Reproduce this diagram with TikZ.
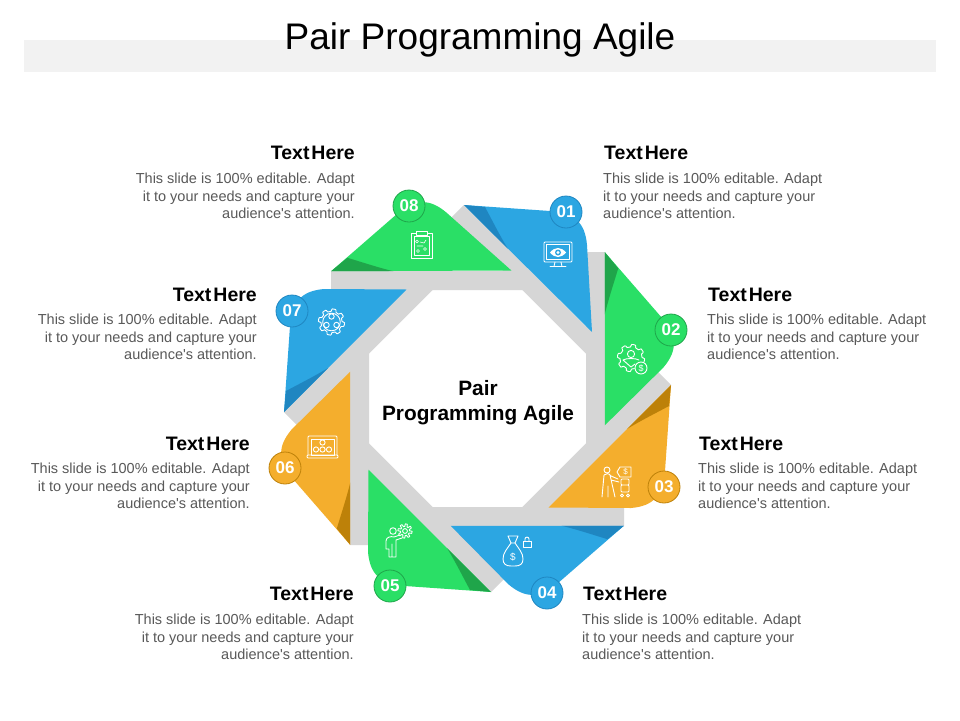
\documentclass[tikz,border=0pt]{standalone}
\usepackage{fontspec}
\setmainfont{Liberation Sans}[Ligatures=TeXOff]
\definecolor{pblue}{HTML}{2CA6E2}\definecolor{dblue}{HTML}{1F86C1}
\definecolor{pgreen}{HTML}{2ADF66}\definecolor{dgreen}{HTML}{1FA54A}
\definecolor{porange}{HTML}{F4AE2D}\definecolor{dorange}{HTML}{BD8109}
\definecolor{bandgray}{HTML}{D6D6D6}\definecolor{stripgray}{HTML}{F2F2F2}
\definecolor{bodygray}{HTML}{595959}
\tikzset{
 x=1pt,y=-1pt,
 ic/.style={draw=white,line width=0.9pt,line join=round,line cap=round,fill=none},
 badge/.style={circle,minimum size=32pt,inner sep=0pt,line width=0.8pt,text=white,font=\fontsize{17}{17}\selectfont\bfseries},
 headtext/.style={inner sep=0pt,text=black,font=\fontsize{19.5}{21}\selectfont\bfseries},
 bodytext/.style={inner sep=0pt,text=bodygray,font=\fontsize{14.5}{17.5}\selectfont},
 dollar/.style={inner sep=0pt,text=white,font=\fontsize{#1}{#1}\selectfont}
}
\newcommand\headlabel{\spaceskip=.1em Text Here}
\newcommand\gearicon[4]{% cx cy r teeth
 \draw[ic] plot[domain=0:360,samples=121,smooth] ({#1+(#3+1.3*max(-1,min(1,3*sin(#4*\x))))*cos(\x)},{#2+(#3+1.3*max(-1,min(1,3*sin(#4*\x))))*sin(\x)}) -- cycle;}
\begin{document}
\begin{tikzpicture}
\useasboundingbox (0,0) rectangle (960,720);
\fill[white] (0,0) rectangle (960,720);
\fill[stripgray] (24,40) rectangle (936,72);
\node[inner sep=0pt,font=\fontsize{37}{40}\selectfont] (title) at (480,39.5) {Pair Programming Agile};
\foreach \k in {0,...,7}{
 \fill[bandgray,rotate around={-45*\k:(477.5,398.5)}] (331,271) -- (331,290) -- (523,290) -- (504,271) -- cycle;
}
\foreach \cc/\dd/\tipx/\tipy/\bx/\by [count=\k from 0] in {pblue/dblue/592/332/566/212,pgreen/dgreen/586.5/327.5/671/330,porange/dorange/586.5/327.5/664/487,pblue/dblue/586.5/327.5/547/593,pgreen/dgreen/586.5/327.5/390/586,porange/dorange/586.5/327.5/285/468,pblue/dblue/586.5/327.5/292/311,pgreen/dgreen/592/332/409/206}{
 \begin{scope}[rotate around={-45*\k:(477.5,398.5)}]
  \fill[\cc] (464,205) -- (550,211) .. controls (574,213) and (585,222) .. (587,245) -- (\tipx,\tipy) -- cycle;
  \fill[\dd] (464,205) -- (485,207) .. controls (492,220) and (500,236) .. (508,249) -- cycle;
 \end{scope}
 \node[badge,fill=\cc,draw=\dd] (b\k) at (\bx,\by) {0\the\numexpr\k+1\relax};
}
\node[inner sep=0pt,align=center,font=\fontsize{20.8}{25}\selectfont\bfseries] (centre) at (478,403) {Pair\\Programming Agile};
% text blocks
\foreach \nm/\px/\py/\anc in {a/604/152.5/west,b/708/294.5/west,c/699/443.5/west,d/583/593.5/west,e/354/593.5/east,f/250/443.5/east,g/257/294.5/east,h/355/152.5/east}{
 \node[headtext,anchor=\anc] (h\nm) at (\px,\py) {\headlabel};
}
\foreach \nm/\px/\py in {a/603/173,b/707/314,c/698/463,d/582/614}{
 \node[bodytext,anchor=north west,align=left] (t\nm) at (\px,\py) {This slide is 100\% editable. Adapt\\it to your needs and capture your\\audience's attention.};
}
\foreach \nm/\px/\py in {e/354/614,f/250/463,g/257/314,h/355/173}{
 \node[bodytext,anchor=north east,align=right] (t\nm) at (\px,\py) {This slide is 100\% editable. Adapt\\it to your needs and capture your\\audience's attention.};
}
% icon 01 monitor
\draw[ic,rounded corners=1pt] (544,242) rectangle (572,262);
\draw[ic,line width=.5pt] (546.5,244.5) rectangle (569.5,259.5);
\fill[white] (550,252.5) .. controls (555,246.5) and (561,246.5) .. (566,252.5) .. controls (561,258.5) and (555,258.5) .. (550,252.5) -- cycle;
\fill[pblue] (558,252.5) circle (3);
\fill[white] (558,252.5) circle (1.6);
\draw[ic] (555,262) -- (554,266.5) (561,262) -- (562,266.5) (550,266.5) -- (566,266.5);
% icon 02 gear with dollar
\gearicon{631}{358}{12.3}{8}
\draw[ic] (631,354) circle (3.6);
\draw[ic] (623,360) .. controls (626,358) and (636,358) .. (639,360) (623,360) -- (631,367) -- (635,364);
\fill[pgreen] (641,368) circle (6.5);
\draw[ic] (641,368) circle (6);
\node[dollar=9] (i2d) at (641,368) {\$};
% icon 03 person and board
\draw[ic] (607,470) circle (3);
\draw[ic] (604,475) -- (602,497) (610,475) -- (615,497) (608,486) -- (608,497) (604,475) .. controls (606,473) and (609,473) .. (611,476) -- (618,479) (611,480) -- (619,482);
\draw[ic] (620,467) -- (631,467) -- (631,477) -- (620,477) -- (617,472) -- cycle;
\node[dollar=8] (i3d) at (625.5,472) {\$};
\draw[ic,rounded corners=1pt] (621,479) rectangle (629,485) (621,485) rectangle (629,492);
\draw[ic] (622,495.5) circle (1.5) (628,495.5) circle (1.5);
% icon 04 money bag and lock
\draw[ic] (508,536) -- (518,536) -- (515,543) -- (511,543) -- cycle;
\draw[ic] (511,543) .. controls (507,549) and (503,553) .. (503,559) .. controls (503,564) and (506,566) .. (511,566) -- (515,566) .. controls (520,566) and (523,564) .. (523,559) .. controls (523,553) and (519,549) .. (515,543);
\node[dollar=10] (i4d) at (513,557) {\$};
\draw[ic] (523,541) rectangle (531,547);
\draw[ic] (525,541) -- (525,539) .. controls (525,536.5) and (529,536.5) .. (529,539) -- (529,541);
% icon 05 person with gear
\draw[ic] (393,531) circle (3.3);
\draw[ic] (386,549) -- (386,541) .. controls (386,537) and (391,536) .. (394,537) -- (400,535) (386,549) -- (389,549) -- (389,557) -- (392,557) -- (392,544) (392,557) -- (396,557) -- (396,549) -- (396,540) -- (402,538);
\gearicon{405}{531}{5.8}{8}
\draw[ic] (405,531) circle (2.4);
% icon 06 laptop with people
\draw[ic,rounded corners=1pt] (308,455) -- (308,436) -- (337,436) -- (337,455);
\draw[ic] (311,439) rectangle (334,455);
\draw[ic,rounded corners=1pt] (307,455) -- (338,455) -- (338,458) -- (307,458) -- cycle;
\draw[ic] (322.5,442.5) circle (2.6) (316,449.5) circle (2.6) (322.5,449.5) circle (2.6) (329,449.5) circle (2.6);
% icon 07 gear
\gearicon{331.5}{322}{11.8}{8}
\draw[ic] (331.5,322) circle (8.8);
\draw[ic] (331.5,316.5) circle (2.7) (326.5,325) circle (2.7) (336.5,325) circle (2.7);
% icon 08 clipboard
\draw[ic] (411,233) rectangle (432,258);
\draw[ic,line width=.5pt] (414,236) rectangle (429,255);
\draw[ic,fill=pgreen] (416,231) rectangle (427,235);
\draw[ic,line width=.6pt] (417,241.5) circle (1.5) (424,243) -- (426,240) (417,246) -- (423,246) (425,249) circle (1.5) (418,251) circle (1.5) (420,242) -- (424,243);
\end{tikzpicture}
\end{document}
